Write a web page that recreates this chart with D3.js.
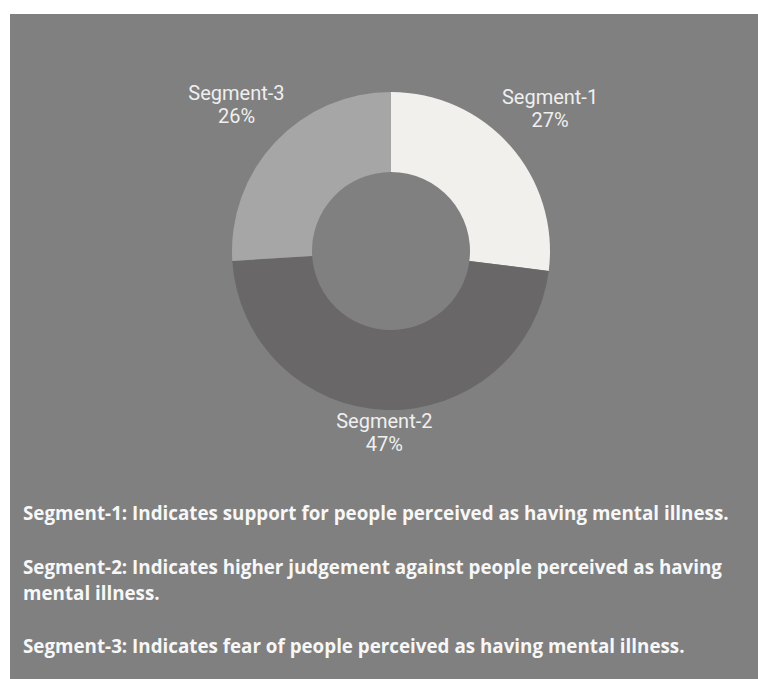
<!DOCTYPE html>
<html>
<head>
<meta charset="utf-8">
<script src="https://cdn.jsdelivr.net/npm/d3@7"></script>
<style>
  html, body { margin: 0; padding: 0; background: #fff; }
  svg { display: block; }
</style>
</head>
<body>
<svg id="chart"></svg>
<script>
// ── Donut: share of respondents per attitude segment ─────────────────────────
const SEGMENTS = ["Segment-1", "Segment-2", "Segment-3"];
const VALUES   = [27, 47, 26];
const COLORS   = ["#f2f0ed", "#696767", "#a6a6a6"];

const NOTES = [
  ["Segment-1: Indicates support for people perceived as having mental illness."],
  ["Segment-2: Indicates higher judgement against people perceived as having", "mental illness."],
  ["Segment-3: Indicates fear of people perceived as having mental illness."]
];

const VW = 758, VH = 679;
const CX = 391, CY = 251, R = 159, r = 79;

const svg = d3.select("#chart").attr("width", VW).attr("height", VH);

// grey panel
svg.append("rect")
  .attr("x", 10).attr("y", 14)
  .attr("width", VW - 10).attr("height", VH - 14)
  .attr("fill", "#808080");

const data = SEGMENTS.map((s, i) => ({ name: s, value: VALUES[i], color: COLORS[i] }));

const pie = d3.pie().value(d => d.value).sort(null);
const arc = d3.arc().innerRadius(r).outerRadius(R);

const g = svg.append("g").attr("transform", `translate(${CX},${CY})`);
const arcs = pie(data);

g.selectAll("path.slice")
  .data(arcs)
  .join("path")
  .attr("class", "slice")
  .attr("d", arc)
  .attr("fill", d => d.data.color);

// labels sit outside the ring, on a slightly flattened ellipse
const LX = 212, LY = 195;
const lbl = g.selectAll("text.lbl")
  .data(arcs)
  .join("text")
  .attr("class", "lbl")
  .attr("text-anchor", "middle")
  .attr("font-family", "Roboto, sans-serif")
  .attr("font-size", "20px")
  .attr("fill", "#efefef")
  .attr("transform", d => {
    const a = (d.startAngle + d.endAngle) / 2;
    return `translate(${LX * Math.sin(a)},${-LY * Math.cos(a) + 5})`;
  });
lbl.append("tspan").attr("x", 0).attr("y", -23).text(d => d.data.name);
lbl.append("tspan").attr("x", 0).attr("y", 0).text(d => d.data.value + "%");

// explanatory notes
const BASE = [520, 574, 653];
const notes = svg.append("g")
  .attr("font-family", "'Open Sans', sans-serif")
  .attr("font-weight", "bold")
  .attr("font-size", "18.8px")
  .attr("fill", "#f7f7f7");

NOTES.forEach((lines, i) => {
  const t = notes.append("text").attr("x", 23).attr("y", BASE[i]);
  lines.forEach((ln, j) => {
    t.append("tspan").attr("x", 23).attr("dy", j ? 26 : 0).text(ln);
  });
});
</script>
</body>
</html>
